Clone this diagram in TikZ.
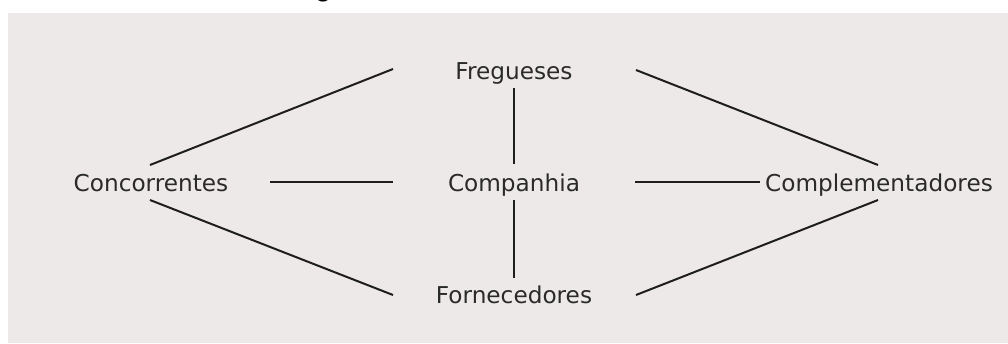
\documentclass[tikz,border=0pt]{standalone}
\usepackage{fontspec}
\setmainfont{DejaVu Sans}
\newfontfamily\captionfont{Liberation Sans}
\usetikzlibrary{calc}
\definecolor{panel}{RGB}{238,233,233}
\definecolor{ink}{RGB}{42,42,42}
\definecolor{wire}{RGB}{30,30,30}
\begin{document}
\begin{tikzpicture}[x=1pt,y=-1pt,
  actor/.style={font=\fontsize{23.2}{28}\selectfont, text=ink, inner sep=0pt, anchor=base},
  link/.style={draw=wire, line width=2pt}]
  \useasboundingbox (0,0) rectangle (1008,343);
  \clip (0,0) rectangle (1008,343);
  \fill[white] (0,0) rectangle (1008,343);
  \fill[panel] (8,13) rectangle (1008,343);

  % figure caption, cut by the top edge of the page
  \node[font=\captionfont\bfseries\fontsize{26}{30}\selectfont, anchor=base west, inner sep=0pt]
    (caption) at (292,-3.5) {Figura 6 - Rede de Valores};

  % the five players of the value net
  \node[actor] (freg)  at (514,79)  {Fregueses};
  \node[actor] (comp)  at (514,191) {Companhia};
  \node[actor] (forn)  at (514,303) {Fornecedores};
  \node[actor] (conc)  at (151,191) {Concorrentes};
  \node[actor] (compl) at (879,191) {Complementadores};

  % vertical axis
  \draw[link] ($(freg.base)+(0,9)$)  -- ($(comp.base)+(0,-27)$);
  \draw[link] ($(comp.base)+(0,9)$)  -- ($(forn.base)+(0,-25)$);

  % horizontal axis
  \draw[link] ($(conc.base)+(119,-9)$) -- ($(comp.base)+(-121,-9)$);
  \draw[link] ($(comp.base)+(121,-9)$) -- ($(compl.base)+(-119,-9)$);

  % diagonals
  \draw[link] ($(conc.base)+(-1,-26)$) -- ($(freg.base)+(-121,-10)$);
  \draw[link] ($(conc.base)+(-1,9)$)   -- ($(forn.base)+(-121,-8)$);
  \draw[link] ($(freg.base)+(122,-9)$) -- ($(compl.base)+(-1,-26)$);
  \draw[link] ($(forn.base)+(122,-8)$) -- ($(compl.base)+(-1,9)$);
\end{tikzpicture}
\end{document}
